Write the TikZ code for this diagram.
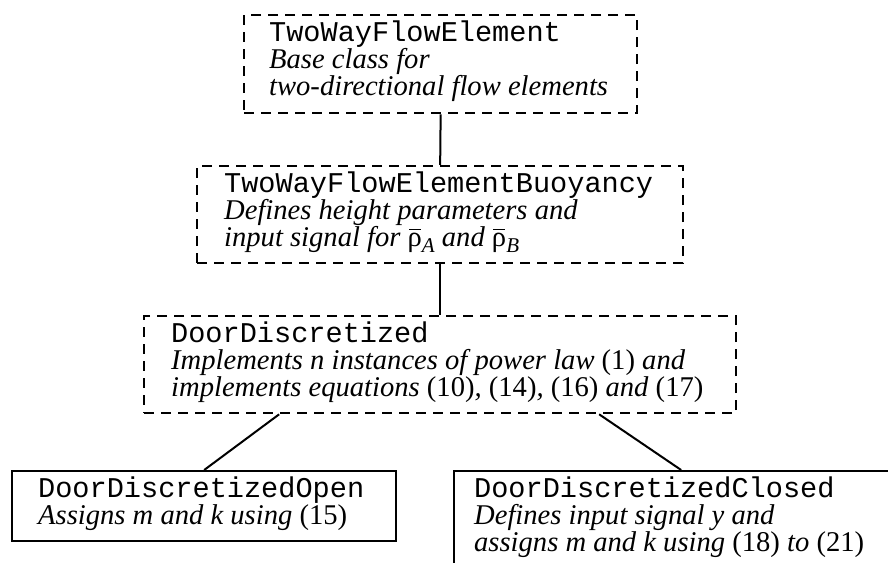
\documentclass[tikz,border=0pt]{standalone}
\usepackage{fontspec}
\setmainfont{Liberation Serif}
\setmonofont{Liberation Mono}
\newcommand\rhobar{{\upshape\ooalign{ρ\cr\hidewidth\rule[0.56em]{0.4em}{0.05em}\hidewidth\cr}}}
\newcommand\subit[1]{\raisebox{-0.22em}{\fontsize{21}{21}\selectfont\itshape #1}}
\begin{document}
\begin{tikzpicture}[x=1pt,y=-1pt,line width=2.3pt,
  dbox/.style={draw, dash pattern=on 10pt off 7pt, anchor=north west, inner sep=0pt},
  sbox/.style={draw, anchor=north west, inner sep=0pt},
  conn/.style={line width=2pt},
  txt/.style={anchor=base west, inner sep=0pt, font=\fontsize{28.6}{28}\selectfont},
  mono/.style={anchor=base west, inner sep=0pt, font=\fontsize{28.6}{28}\ttfamily}]
\clip (0,0) rectangle (888,562);
\fill[white] (0,0) rectangle (888,562);
% boxes
\node[dbox, minimum width=393pt, minimum height=98pt] (b1) at (243,14) {};
\node[dbox, minimum width=486pt, minimum height=97pt] (b2) at (196,165) {};
\node[dbox, minimum width=592pt, minimum height=97pt] (b3) at (143,315) {};
\node[sbox, minimum width=384pt, minimum height=70pt] (open) at (11,470) {};
\node[sbox, minimum width=454pt, minimum height=130pt] (closed) at (453,470) {};
% connectors
\draw[conn] (b1.south) -- (b2.north);
\draw[conn] (b2.south) -- (b3.north);
\draw[conn] ([xshift=-161pt]b3.south) -- (open.north);
\draw[conn] ([xshift=159pt]b3.south) -- (closed.north);
% texts
\node[mono] (t11) at (268,41) {TwoWayFlowElement};
\node[txt] (t12) at (268,68) {\itshape Base class for};
\node[txt] (t13) at (268,95) {\itshape two-directional flow elements};
\node[mono] (t21) at (223,192) {TwoWayFlowElementBuoyancy};
\node[txt] (t22) at (223,219) {\itshape Defines height parameters and};
\node[txt] (t23) at (223,246) {\itshape input signal for \rhobar\subit{A} and \rhobar\subit{B}};
\node[mono] (t31) at (170,342) {DoorDiscretized};
\node[txt] (t32) at (170,369) {\textit{Implements n instances of power law} (1) \textit{and}};
\node[txt] (t33) at (170,396) {\textit{implements equations} (10)\textit{,} (14)\textit{,} (16) \textit{and} (17)};
\node[mono] (t41) at (37,497) {DoorDiscretizedOpen};
\node[txt] (t42) at (37,524) {\textit{Assigns m and k using} (15)};
\node[mono] (t51) at (473,497) {DoorDiscretizedClosed};
\node[txt] (t52) at (473,524) {\itshape Defines input signal y and};
\node[txt] (t53) at (473,551) {\textit{assigns m and k using} (18) \textit{to} (21)};
\end{tikzpicture}
\end{document}
